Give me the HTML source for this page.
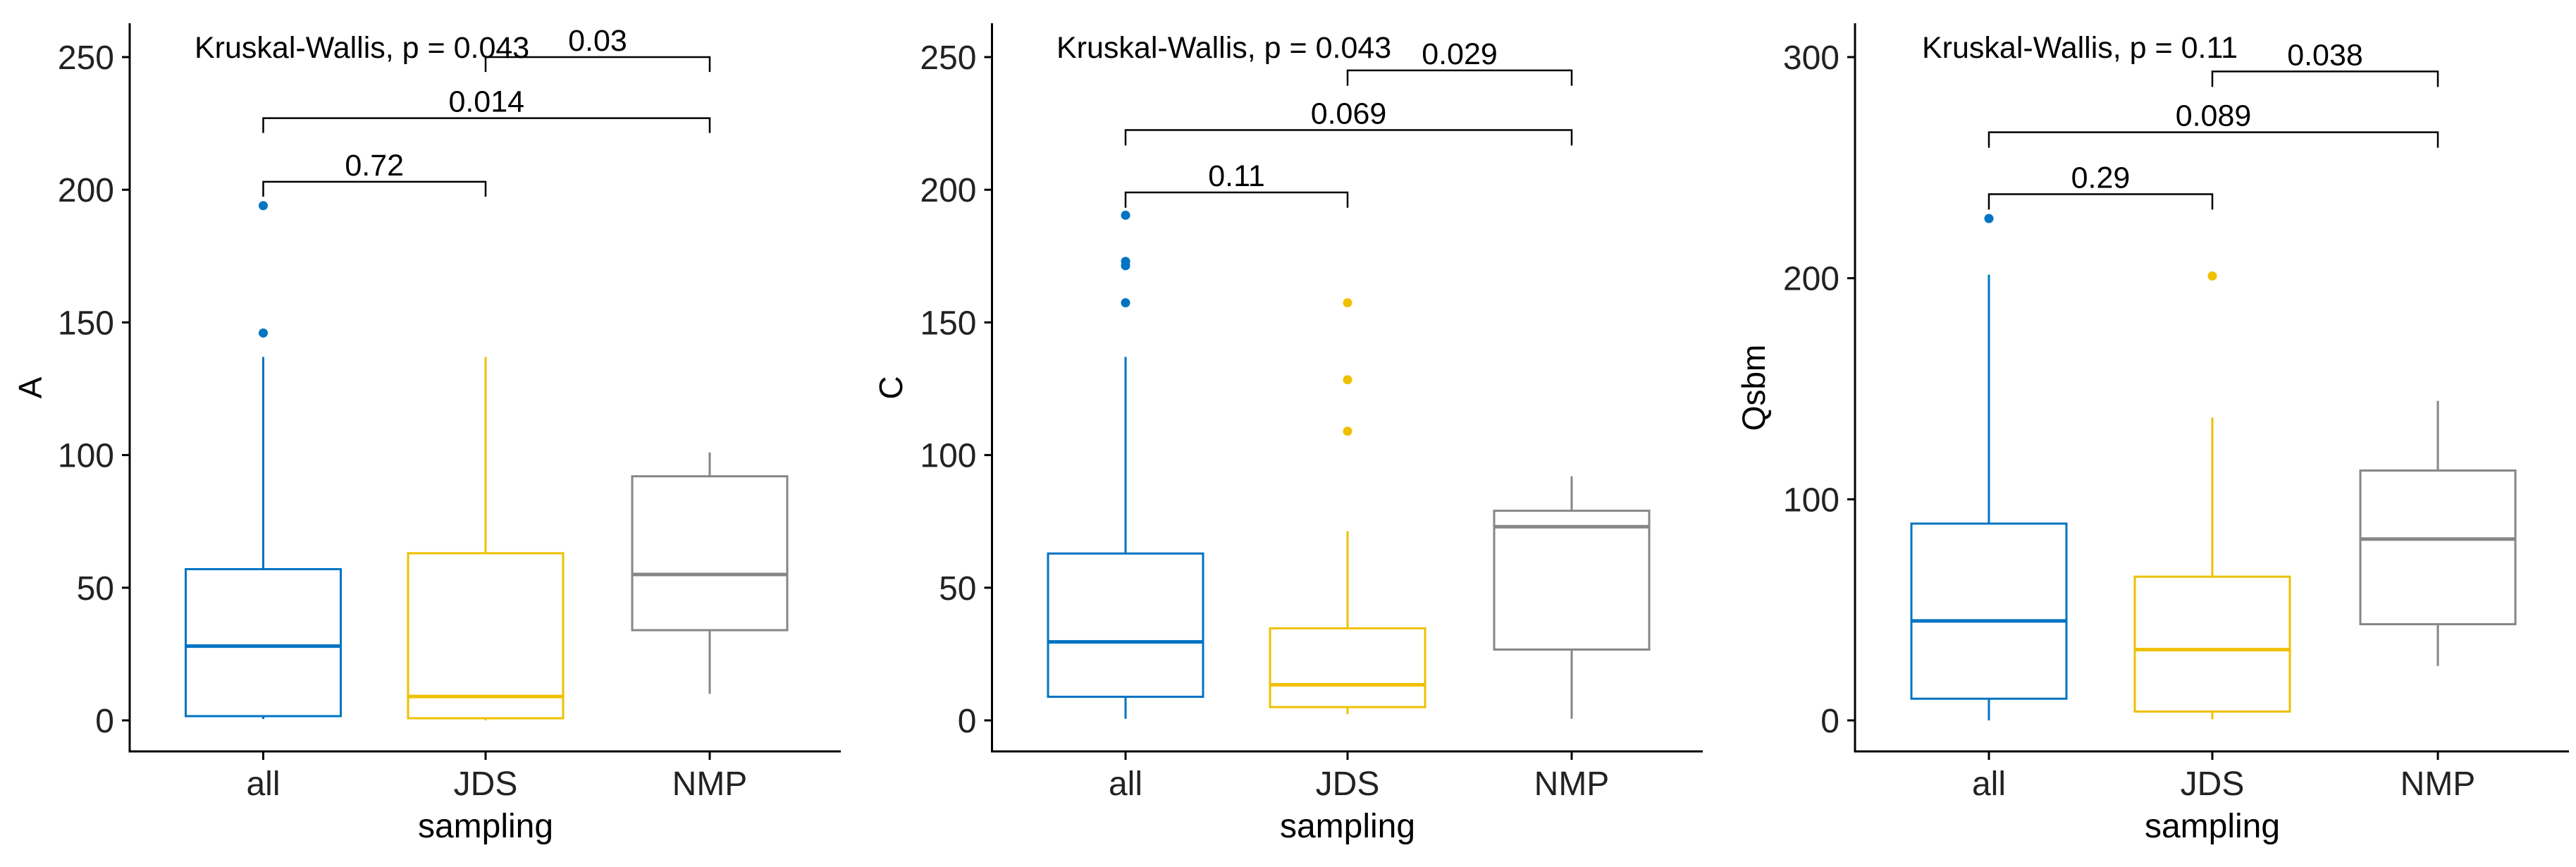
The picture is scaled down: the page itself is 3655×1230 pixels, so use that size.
<!DOCTYPE html>
<html><head><meta charset="utf-8">
<style>
html,body{margin:0;padding:0;background:#fff;}
svg{display:block;font-family:"Liberation Sans",Arial,sans-serif;}
</style></head>
<body>
<svg id="chart" width="3655" height="1230" viewBox="0 0 3655 1230" xmlns="http://www.w3.org/2000/svg"></svg>
<script>
const categories = ["all", "JDS", "NMP"];
const colors = ["#0073C2", "#EFC000", "#868686"];

// Panel A: [lowerWhisker, Q1, median, Q3, upperWhisker]
const statsA = [[0.5, 1.6, 28, 57, 137], [0, 0.8, 9, 63, 137], [10, 34, 55, 92, 101]];
const outliersA = [[194, 146], [], []];
const pairsA = [[0, 1], [0, 2], [1, 2]];
const pvalsA = ["0.72", "0.014", "0.03"];
const bracketYA = [203, 227, 250];
const ticksA = [0, 50, 100, 150, 200, 250];

// Panel C
const statsC = [[0.6, 8.9, 29.6, 62.9, 137], [2.3, 5, 13.4, 34.7, 71.3], [0.6, 26.7, 73, 79, 92]];
const outliersC = [[190.4, 173, 171.4, 157.4], [157.4, 128.4, 109], []];
const pairsC = [[0, 1], [0, 2], [1, 2]];
const pvalsC = ["0.11", "0.069", "0.029"];
const bracketYC = [199, 222.5, 245];
const ticksC = [0, 50, 100, 150, 200, 250];

// Panel Qsbm
const statsQ = [[0, 9.8, 45, 89, 201.6], [0.5, 4, 32, 65, 137], [24.6, 43.5, 82, 113, 144.5]];
const outliersQ = [[227], [201], []];
const pairsQ = [[0, 1], [0, 2], [1, 2]];
const pvalsQ = ["0.29", "0.089", "0.038"];
const bracketYQ = [238, 266, 293.5];
const ticksQ = [0, 100, 200, 300];

const kwLabels = ["Kruskal-Wallis, p = 0.043", "Kruskal-Wallis, p = 0.043", "Kruskal-Wallis, p = 0.11"];
const yTitles = ["A", "C", "Qsbm"];

const panels = [
  {ax: 184, right: 1193, ymax: 250, catX: [373.5, 689, 1007], kwX: 276, titleX: 43, stats: statsA, out: outliersA, pairs: pairsA, pv: pvalsA, by: bracketYA, ticks: ticksA, tick: 5.6},
  {ax: 1407.5, right: 2416, ymax: 250, catX: [1597, 1912, 2230], kwX: 1499, titleX: 1264, stats: statsC, out: outliersC, pairs: pairsC, pv: pvalsC, by: bracketYC, ticks: ticksC, tick: 5.8},
  {ax: 2632, right: 3645, ymax: 300, catX: [2822, 3139, 3459], kwX: 2727, titleX: 2488, stats: statsQ, out: outliersQ, pairs: pairsQ, pv: pvalsQ, by: bracketYQ, ticks: ticksQ, tick: 7}
];

const NS = "http://www.w3.org/2000/svg";
const svg = document.getElementById("chart");
function mk(tag, attrs, parent) {
  const e = document.createElementNS(NS, tag);
  for (const k in attrs) e.setAttribute(k, attrs[k]);
  (parent || svg).appendChild(e);
  return e;
}
const Y0 = 1022, YTOP = 81, AXB = 1066, AXT = 33, BW = 220;

panels.forEach((p, pi) => {
  const g = mk("g", {});
  
  
  const top = p.ticks[p.ticks.length - 1];
  const y = v => Y0 - (v / top) * (Y0 - YTOP);
  const x = i => p.catX[i];
  // axes
  const ya = mk("line", {x1: p.ax, y1: AXT, x2: p.ax, y2: AXB + 1.5, stroke: "#000", "stroke-width": 3}, g);
  
  
  const xa = mk("line", {x1: p.ax - 1.5, y1: AXB, x2: p.right, y2: AXB, stroke: "#000", "stroke-width": 3}, g);
  
  
  p.ticks.forEach(t => {
    mk("line", {x1: p.ax - 11, y1: y(t), x2: p.ax, y2: y(t), stroke: "#000", "stroke-width": 3}, g);
    const tl = mk("text", {x: p.ax - 22, y: y(t) + 17, "text-anchor": "end", "font-size": 48, fill: "#222"}, g);
    tl.textContent = t;
    
    
  });
  categories.forEach((c, i) => {
    mk("line", {x1: x(i), y1: AXB, x2: x(i), y2: AXB + 12, stroke: "#000", "stroke-width": 3}, g);
    const tl = mk("text", {x: x(i), y: 1128, "text-anchor": "middle", "font-size": 48, fill: "#222"}, g);
    tl.textContent = c;
    
    
  });
  const xt = mk("text", {x: x(1), y: 1188, "text-anchor": "middle", "font-size": 48, fill: "#000"}, g);
  xt.textContent = "sampling";
  
  
  const yt = mk("text", {x: 0, y: 0, "text-anchor": "middle", "font-size": 46, fill: "#000", transform: `translate(${p.titleX + 16},550) rotate(-90)`}, g);
  yt.textContent = yTitles[pi];
  
  
  // boxes
  p.stats.forEach((s, i) => {
    const col = colors[i];
    const bg = mk("g", {}, g);
    
    
    mk("line", {x1: x(i), y1: y(s[0]), x2: x(i), y2: y(s[1]), stroke: col, "stroke-width": 3}, bg);
    mk("line", {x1: x(i), y1: y(s[3]), x2: x(i), y2: y(s[4]), stroke: col, "stroke-width": 3}, bg);
    mk("rect", {x: x(i) - BW / 2, y: y(s[3]), width: BW, height: y(s[1]) - y(s[3]), fill: "#fff", stroke: col, "stroke-width": 3}, bg);
    mk("line", {x1: x(i) - BW / 2, y1: y(s[2]), x2: x(i) + BW / 2, y2: y(s[2]), stroke: col, "stroke-width": 5}, bg);
    p.out[i].forEach(v => {
      const c = mk("circle", {cx: x(i), cy: y(v), r: 6.5, fill: col}, bg);
      
      
    });
  });
  // brackets
  p.pairs.forEach((pr, k) => {
    const by = y(p.by[k]), ty = y(p.by[k] - p.tick);
    const bk = mk("path", {d: `M${x(pr[0])},${ty} L${x(pr[0])},${by} L${x(pr[1])},${by} L${x(pr[1])},${ty}`, fill: "none", stroke: "#000", "stroke-width": 2.5}, g);
    
    
    const lt = mk("text", {x: (x(pr[0]) + x(pr[1])) / 2, y: by - 9, "text-anchor": "middle", "font-size": 43, fill: "#000"}, g);
    lt.textContent = p.pv[k];
    
    
  });
  const kw = mk("text", {x: p.kwX, y: 82, "font-size": 43, fill: "#000"}, g);
  kw.textContent = kwLabels[pi];
  
  
});
</script>
</body></html>
